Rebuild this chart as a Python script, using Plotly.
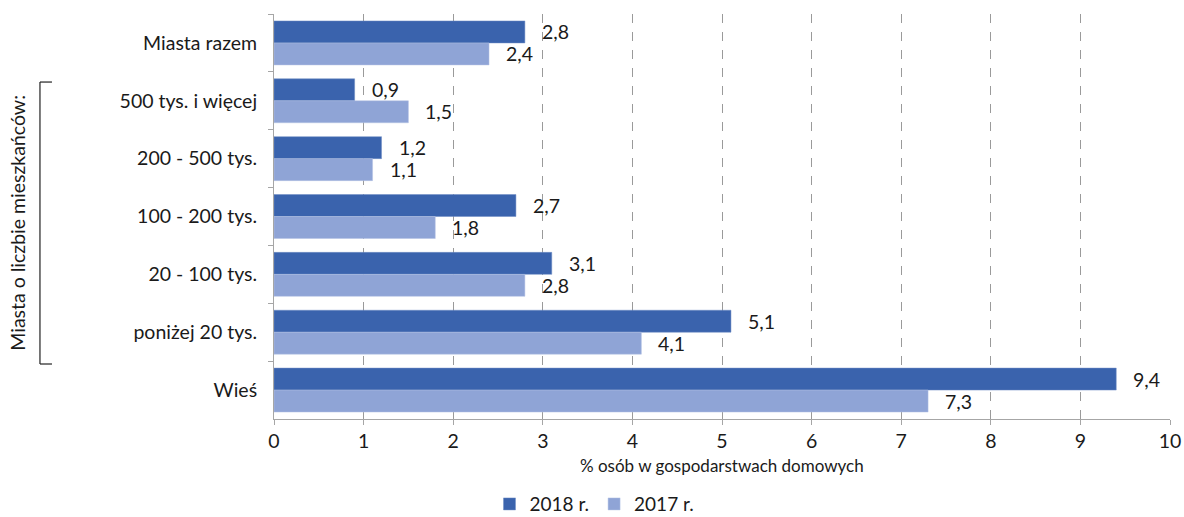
import plotly.graph_objects as go

categories = ["Miasta razem", "500 tys. i więcej", "200 - 500 tys.", "100 - 200 tys.",
              "20 - 100 tys.", "poniżej 20 tys.", "Wieś"]
values_2018 = [2.8, 0.9, 1.2, 2.7, 3.1, 5.1, 9.4]
values_2017 = [2.4, 1.5, 1.1, 1.8, 2.8, 4.1, 7.3]
series_names = ["2018 r.", "2017 r."]
x_ticks = list(range(0, 11))
x_title = "% osób w gospodarstwach domowych"
bracket_label = "Miasta o liczbie mieszkańców:"

C18 = "#3a63ad"
C17 = "#8fa4d6"
FONT = "Lato"
TXT = "#1a1a1a"


def fmt(v):
    return f"{v:.1f}".replace(".", ",")


fig = go.Figure()
fig.add_trace(go.Bar(y=categories, x=values_2018, orientation="h", name=series_names[0],
                     marker=dict(color=C18, line=dict(color="#6f8cc4", width=0.5))))
fig.add_trace(go.Bar(y=categories, x=values_2017, orientation="h", name=series_names[1],
                     marker=dict(color=C17, line=dict(color="#b5c3e4", width=0.5))))

annotations = []
for c, v in zip(categories, values_2018):
    annotations.append(dict(x=v, y=c, xref="x", yref="y", text=fmt(v), showarrow=False,
                            xanchor="left", xshift=15, yshift=11,
                            font=dict(family=FONT, size=19.5, color=TXT)))
for c, v in zip(categories, values_2017):
    annotations.append(dict(x=v, y=c, xref="x", yref="y", text=fmt(v), showarrow=False,
                            xanchor="left", xshift=15, yshift=-11,
                            font=dict(family=FONT, size=19.5, color=TXT)))

annotations.append(dict(x=-0.286, y=0.484, xref="paper", yref="paper", text=bracket_label,
                        showarrow=False, textangle=-90, xanchor="center", yanchor="middle",
                        font=dict(family=FONT, size=19.5, color=TXT)))
annotations.append(dict(x=0.5, y=-0.116, xref="paper", yref="paper", text=x_title,
                        showarrow=False, xanchor="center", yanchor="middle",
                        font=dict(family=FONT, size=17, color=TXT)))

shapes = [
    dict(type="line", xref="paper", yref="paper", x0=-0.2612, x1=-0.2612, y0=0.1358, y1=0.832,
         line=dict(color="#222222", width=1.2)),
    dict(type="line", xref="paper", yref="paper", x0=-0.2612, x1=-0.2478, y0=0.832, y1=0.832,
         line=dict(color="#222222", width=1.2)),
    dict(type="line", xref="paper", yref="paper", x0=-0.2612, x1=-0.2478, y0=0.1358, y1=0.1358,
         line=dict(color="#222222", width=1.2)),
]

fig.update_layout(
    width=1184, height=517,
    margin=dict(l=274, r=14, t=14, b=98, autoexpand=False),
    barmode="group", bargap=0.24, bargroupgap=0,
    paper_bgcolor="white", plot_bgcolor="white",
    font=dict(family=FONT, size=19.5, color=TXT),
    showlegend=True,
    legend=dict(orientation="h", x=0.2405, xanchor="left", y=-0.21, yanchor="middle",
                font=dict(family=FONT, size=19, color=TXT), traceorder="normal",
                itemwidth=30),
    annotations=annotations,
    shapes=shapes,
)
fig.update_xaxes(range=[0, 10], tickvals=x_ticks, showgrid=True, gridcolor="#9a9a9a",
                 griddash="dash", gridwidth=1, showline=True, linecolor="#a6a6a6", linewidth=1,
                 ticks="outside", ticklen=5, tickcolor="#a6a6a6", zeroline=False,
                 automargin=False, tickfont=dict(family=FONT, size=19.5, color=TXT))
fig.update_yaxes(autorange="reversed", showline=True, linecolor="#a6a6a6", linewidth=1,
                 ticks="outside", ticklen=5, tickcolor="#a6a6a6", tickson="boundaries",
                 automargin=False, showgrid=False, ticklabelstandoff=12,
                 tickfont=dict(family=FONT, size=19.5, color=TXT))

fig.write_html("out.html", config={"displayModeBar": False},
               post_script="document.body.style.margin='0';")
